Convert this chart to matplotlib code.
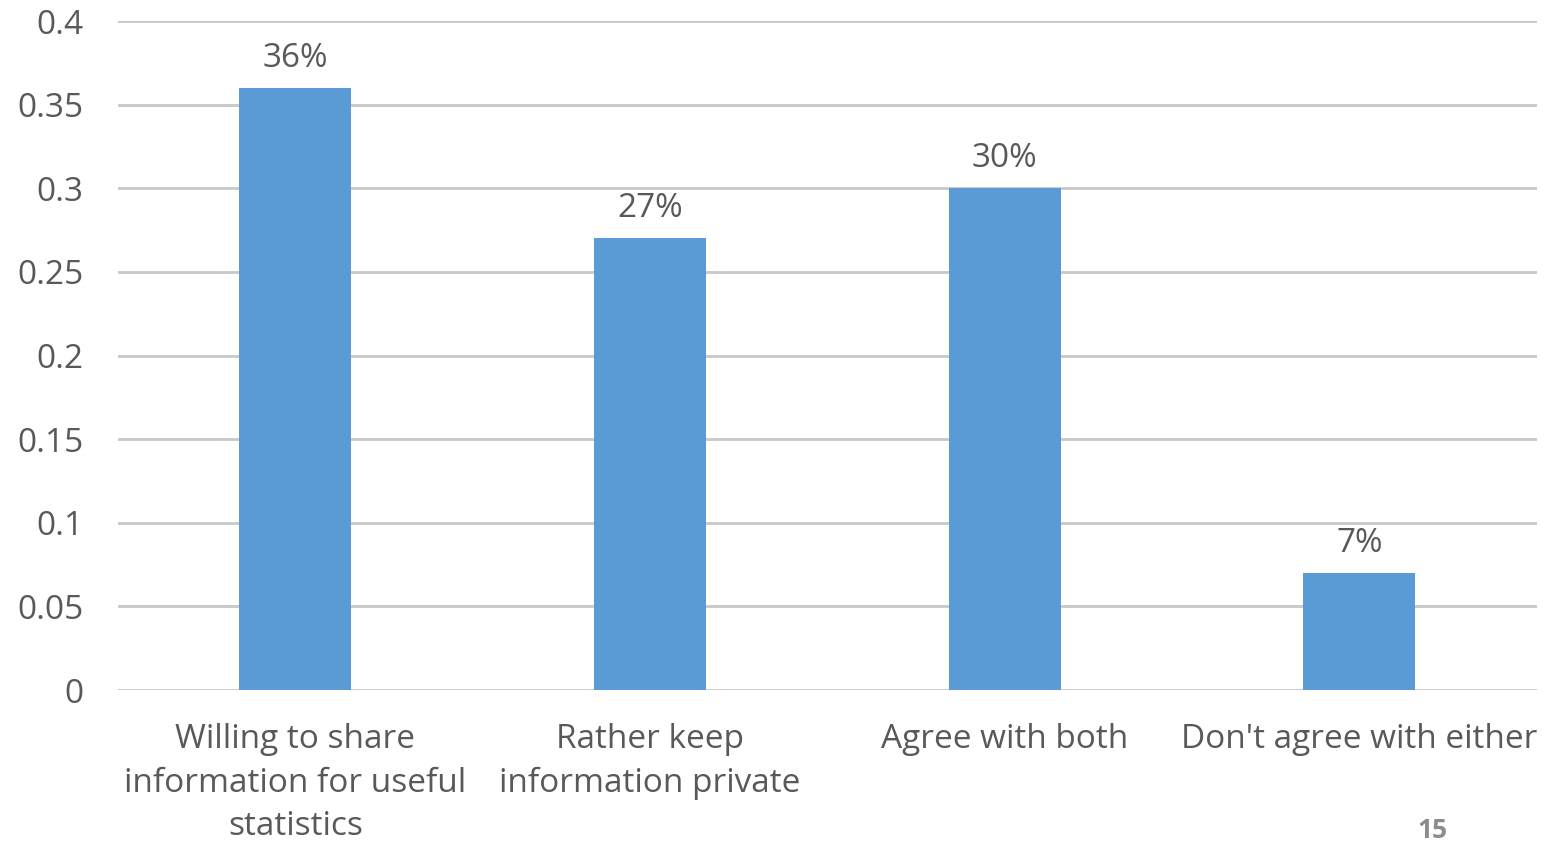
import numpy as np
import matplotlib.pyplot as plt

plt.rcParams['font.family'] = ['Open Sans', 'DejaVu Sans']

categories = ["Willing to share\ninformation for useful\nstatistics",
              "Rather keep\ninformation private",
              "Agree with both",
              "Don't agree with either"]
values = [0.36, 0.27, 0.30, 0.07]
labels = ["36%", "27%", "30%", "7%"]

txt = '#595959'
fig = plt.figure(figsize=(15.59, 8.42), dpi=100)
ax = fig.add_axes([0.0757, 0.1805, 0.91, 0.7945])

x = np.arange(len(categories))
ax.bar(x, values, width=0.316, color='#5b9bd5', zorder=3)
for xi, v, s in zip(x, values, labels):
    ax.text(xi, v + 0.008, s, ha='center', va='bottom', fontsize=24, color=txt)

ax.set_xlim(-0.5, 3.5)
ax.set_ylim(0, 0.4)
ax.set_yticks([0, 0.05, 0.1, 0.15, 0.2, 0.25, 0.3, 0.35, 0.4])
ax.set_yticklabels(['0', '0.05', '0.1', '0.15', '0.2', '0.25', '0.3', '0.35', '0.4'])
ax.set_xticks(x)
ax.set_xticklabels(categories, linespacing=1.42)
ax.tick_params(axis='both', length=0, labelsize=24, labelcolor=txt)
ax.tick_params(axis='x', pad=24)
ax.tick_params(axis='y', pad=25)
ax.grid(axis='y', color='#c8c8c8', linewidth=2, zorder=0)
for sp in ax.spines.values():
    sp.set_visible(False)

fig.text(1432 / 1559, 1 - 830 / 842, "15", ha='center', va='center',
         fontsize=19, fontweight='bold', color='#8c8c8c')

fig.savefig('out.png', dpi=100)
